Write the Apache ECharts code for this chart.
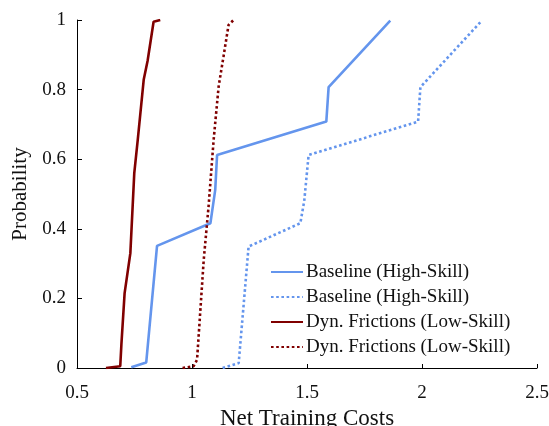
<!DOCTYPE html>
<html><head><meta charset="utf-8">
<script src="https://cdn.jsdelivr.net/npm/echarts@6/dist/echarts.min.js"></script>
<style>html,body{margin:0;padding:0;background:#fff}#c{width:549px;height:426px}</style>
</head><body><div id="c"></div>
<script>
const seriesNames = ['Baseline (High-Skill)','Baseline (High-Skill)','Dyn. Frictions (Low-Skill)','Dyn. Frictions (Low-Skill)'];
const xTicks = [0.5, 1, 1.5, 2, 2.5];
const yTicks = [0, 0.2, 0.4, 0.6, 0.8, 1];
const baselineSolid = [[0.736,0.002],[0.801,0.016],[0.848,0.351],[1.080,0.416],[1.101,0.512],[1.109,0.612],[1.584,0.708],[1.594,0.807],[1.862,0.998]];
const baselineDotted = [[1.133,0],[1.203,0.014],[1.246,0.349],[1.471,0.416],[1.488,0.48],[1.507,0.612],[1.983,0.708],[1.993,0.807],[2.257,0.996]];
const frictionSolid = [[0.626,0],[0.688,0.005],[0.693,0.067],[0.707,0.215],[0.732,0.33],[0.749,0.56],[0.764,0.655],[0.790,0.828],[0.807,0.883],[0.833,0.995],[0.862,1.0]];
const frictionDotted = [[0.959,0],[1.007,0.005],[1.022,0.024],[1.051,0.311],[1.072,0.464],[1.094,0.655],[1.116,0.81],[1.137,0.895],[1.159,0.986],[1.181,1.0]];

const blue = '#6495ED', red = '#800000';
const font = 'Liberation Serif';
const chart = echarts.init(document.getElementById('c'));
function mk(name, data, color, type){
  return {name, type:'line', data, symbol:'none', smooth:false,
    lineStyle:{color, width:2.6, type: type==='dotted'?[2.6,2.6]:'solid'}, itemStyle:{color}};
}
const ids = ['b1','b2','f1','f2'];
const dataSets = [baselineSolid, baselineDotted, frictionSolid, frictionDotted];
const colors = [blue, blue, red, red];
const types = ['solid','dotted','solid','dotted'];
chart.setOption({
  animation:false,
  textStyle:{fontFamily:font},
  grid:{left:77, right:12, top:20, bottom:58, containLabel:false, outerBoundsMode:'none'},
  legend:{
    orient:'vertical', left:270, top:262, padding:0, itemGap:5, itemWidth:32, itemHeight:14,
    itemStyle:{opacity:0},
    textStyle:{fontFamily:font, fontSize:19, lineHeight:20, color:'#111', padding:[0,0,0,-2]},
    data: ids, formatter: n => seriesNames[ids.indexOf(n)]
  },
  xAxis:{type:'value', min:xTicks[0], max:xTicks[xTicks.length-1], interval:0.5,
    name:'Net Training Costs', nameLocation:'middle', nameGap:37,
    nameTextStyle:{fontFamily:font, fontSize:23, color:'#111'},
    axisLine:{show:true, lineStyle:{color:'#000', width:1}},
    axisTick:{show:true, inside:true, length:4, lineStyle:{color:'#000'}},
    axisLabel:{fontFamily:font, fontSize:19, color:'#111', margin:16},
    splitLine:{show:false}},
  yAxis:{type:'value', min:yTicks[0], max:yTicks[yTicks.length-1], interval:0.2,
    name:'Probability', nameLocation:'middle', nameGap:44,
    nameTextStyle:{fontFamily:font, fontSize:21, color:'#111'},
    axisLine:{show:true, lineStyle:{color:'#000', width:1}},
    axisTick:{show:true, inside:true, length:5, lineStyle:{color:'#000'}},
    axisLabel:{fontFamily:font, fontSize:19, color:'#111', margin:11},
    splitLine:{show:false}},
  series: ids.map((id,i)=>mk(id, dataSets[i], colors[i], types[i]))
});
</script></body></html>
